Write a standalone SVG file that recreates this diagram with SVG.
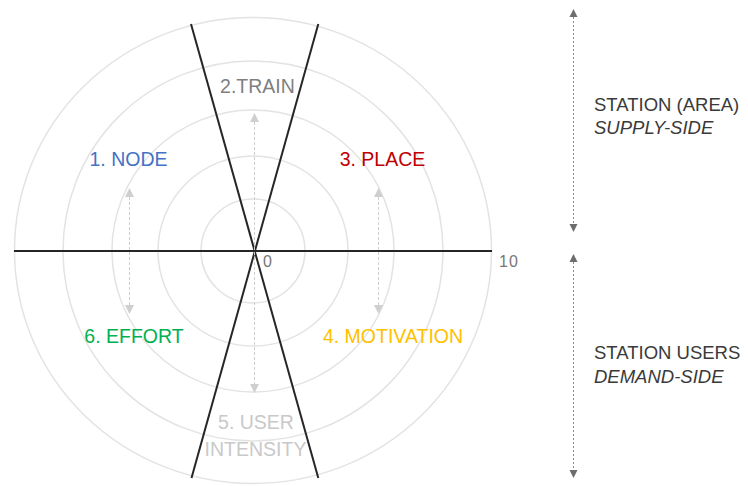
<svg xmlns="http://www.w3.org/2000/svg" width="748" height="486" viewBox="0 0 748 486">
  <style>
    .ring { fill: none; stroke: #e3e3e3; stroke-width: 1.5; }
    .axis { stroke: #262626; stroke-width: 2; fill: none; }
    .dash { stroke: #cfcfcf; stroke-width: 1; stroke-dasharray: 3 2; fill: none; }
    .dash2 { stroke: #8a8a8a; stroke-width: 1; stroke-dasharray: 2 2; fill: none; }
    .lbl { font-family: "Liberation Sans", Arial, sans-serif; font-size: 19.5px; text-anchor: middle; }
    .tick { font-family: "Liberation Sans", Arial, sans-serif; font-size: 16px; fill: #777777; letter-spacing: 1px; }
    .side { font-family: "Liberation Sans", Arial, sans-serif; font-size: 18.5px; fill: #3a3a3a; }
    .it { font-style: italic; }
  </style>
  <defs>
    <marker id="ahLight" viewBox="0 0 10 10" refX="0" refY="5" markerWidth="9" markerHeight="9" markerUnits="userSpaceOnUse" orient="auto-start-reverse">
      <path d="M0,0 L10,5 L0,10 z" fill="#cfcfcf"/>
    </marker>
    <marker id="ahDark" viewBox="0 0 10 10" refX="0" refY="5" markerWidth="8" markerHeight="9" markerUnits="userSpaceOnUse" orient="auto-start-reverse">
      <path d="M0,0 L10,5 L0,10 z" fill="#6d6d6d"/>
    </marker>
  </defs>

  <g id="grid">
    <circle class="ring" cx="253" cy="251" r="52"/>
    <circle class="ring" cx="253" cy="251" r="95"/>
    <circle class="ring" cx="253" cy="251" r="141"/>
    <circle class="ring" cx="253" cy="251" r="190"/>
    <ellipse class="ring" cx="253" cy="250.5" rx="238.5" ry="233"/>
  </g>

  <g id="axes">
    <line class="axis" x1="14" y1="251" x2="492" y2="251"/>
    <line class="axis" x1="191" y1="24" x2="318.3" y2="478"/>
    <line class="axis" x1="318.3" y1="24" x2="191.5" y2="478"/>
  </g>

  <g id="connectors">
    <line class="dash" x1="254.5" y1="122" x2="254.5" y2="384" marker-start="url(#ahLight)" marker-end="url(#ahLight)"/>
    <line class="dash" x1="129.5" y1="197" x2="129.5" y2="305" marker-start="url(#ahLight)" marker-end="url(#ahLight)"/>
    <line class="dash" x1="378.5" y1="197" x2="378.5" y2="305" marker-start="url(#ahLight)" marker-end="url(#ahLight)"/>
    <line class="dash2" x1="573.5" y1="17" x2="573.5" y2="224" marker-start="url(#ahDark)" marker-end="url(#ahDark)"/>
    <line class="dash2" x1="573.5" y1="262" x2="573.5" y2="470" marker-start="url(#ahDark)" marker-end="url(#ahDark)"/>
  </g>

  <g id="ticks">
    <text class="tick" x="263" y="267">0</text>
    <text class="tick" x="499" y="267">10</text>
  </g>

  <g id="node-1"><text class="lbl" x="128.5" y="166" fill="#4472c4">1. NODE</text></g>
  <g id="node-2"><text class="lbl" x="257.5" y="93" fill="#7f7f7f">2.TRAIN</text></g>
  <g id="node-3"><text class="lbl" x="382.5" y="166" fill="#c00000">3. PLACE</text></g>
  <g id="node-4"><text class="lbl" x="393" y="343" fill="#ffc000">4. MOTIVATION</text></g>
  <g id="node-5">
    <text class="lbl" x="256" y="429" fill="#c9c9c9">5. USER</text>
    <text class="lbl" x="255.5" y="456" fill="#c9c9c9">INTENSITY</text>
  </g>
  <g id="node-6"><text class="lbl" x="134" y="343" fill="#00b050">6. EFFORT</text></g>

  <g id="supply">
    <text class="side" x="594" y="111">STATION (AREA)</text>
    <text class="side it" x="594" y="134">SUPPLY-SIDE</text>
  </g>
  <g id="demand">
    <text class="side" x="594" y="359">STATION USERS</text>
    <text class="side it" x="594" y="383">DEMAND-SIDE</text>
  </g>
</svg>
